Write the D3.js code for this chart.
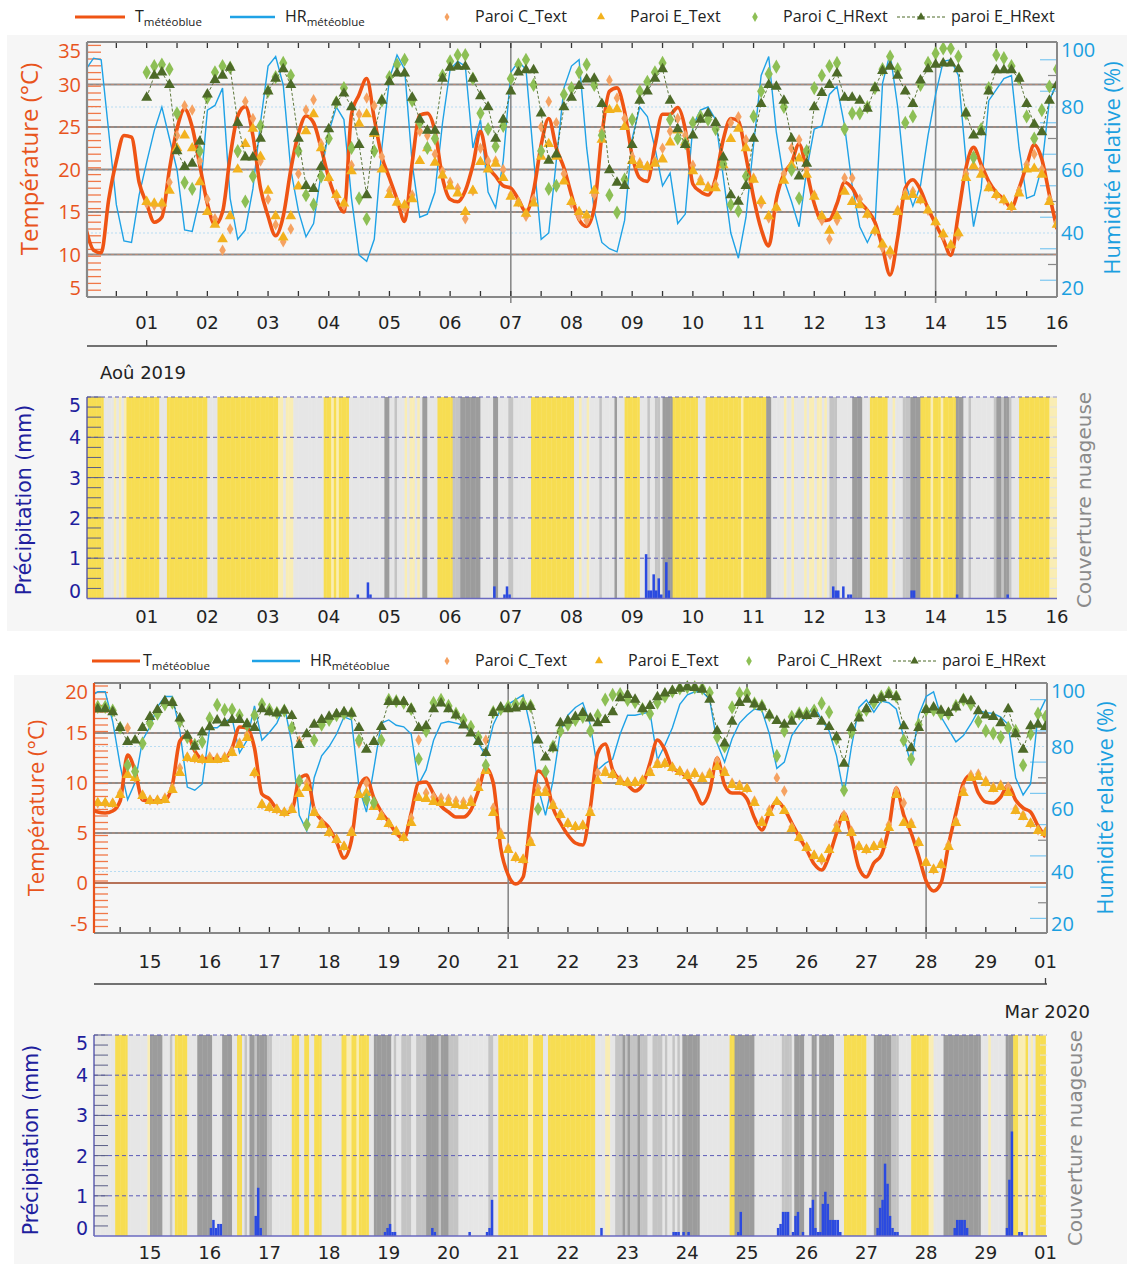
<!DOCTYPE html>
<html><head><meta charset="utf-8">
<script src="https://cdn.jsdelivr.net/npm/d3@7"></script>
<style>body{margin:0;background:#fff}</style>
</head><body>
<script>
// ---------------- DATA ----------------
// Hours are counted from the first midnight of each chart (31 Jul 2019, 14 Feb 2020); series sampled every 3 h.
const augStep = 3, augLineStart = 0, augMarkStart = 24;
const augT = [13.0,10.5,10.2,16.5,21.0,24.0,23.8,18.5, 16.0,13.8,14.4,20.0,24.8,27.1,25.0,20.5, 16.0,13.5,15.0,21.5,26.3,27.4,24.0,17.8,
 14.5,12.2,14.5,20.0,24.2,26.3,25.5,22.5, 19.0,16.5,15.0,26.5,28.8,30.7,26.0,21.5, 19.0,16.5,13.9,20.8,26.4,26.6,24.5,19.0,
 16.5,16.2,17.5,20.5,24.5,20.5,19.2,18.1, 17.8,16.5,15.0,17.5,22.9,26.0,22.5,20.2, 17.0,14.1,13.3,15.5,24.0,29.2,29.6,26.8,
 21.6,19.0,18.6,22.8,26.5,26.5,27.3,24.7, 18.3,17.4,17.0,19.0,23.5,26.0,25.7,21.5, 16.7,13.0,11.0,16.5,19.5,20.8,23.0,19.8,
 16.0,14.0,14.1,16.0,18.5,17.8,16.2,15.2, 13.8,10.8,7.6,12.0,17.8,18.8,17.6,15.4, 13.6,11.8,9.9,14.8,20.2,22.6,20.6,18.6,
 17.3,16.5,15.5,17.8,20.5,22.9,21.2,17.0, 13.0];
const augHR = [92,95.5,95,72,49,37.5,37,52, 62.5,72.5,80,70,60,41,40.5,51, 79,80.5,86,51,38,41,54,75,
 93,96,87,60,47,38.8,43,59, 72,80,76,51,33,31,38,67, 89,96.5,92,62,45,46,53,75,
 92,94.5,93,67,76,53,48,63, 91,94.4,92,64,38,40,63,86, 93,95,67,47,37,35,34,44,
 70,80,77,67,55,59,43,46, 74,79,80,76,58,40,32,45, 68,90,96,72,57,50,42,60,
 73,74,84,86.5,74,55,42,37, 42,87.5,97,80,56,48.5,55,71, 84,94.5,95,90,63,42,54,82,
 85.5,89,90,67,51,52,61,82, 88];
const augCText = [16.0,15.8,15.8,18.5,24.0,27.5,27.0,21.0, 16.5,14.2,10.5,13.0,22.0,28.0,26.0,21.0, 16.5,13.5,11.5,13.0,19.5,27.0,28.2,23.0,
 19.0,16.8,15.8,20.5,26.5,28.4,27.5,21.5, 17.5,16.2,15.4,17.0,24.5,24.0,21.8,19.8, 18.5,17.8,14.2,17.5,22.5,21.0,21.0,20.0,
 17.0,16.2,14.5,16.5,25.0,28.0,25.5,19.5, 16.0,14.5,14.0,17.0,24.5,30.5,28.4,26.0, 21.5,20.8,20.4,21.0,22.5,24.5,26.0,24.0,
 20.5,18.8,18.0,18.2,21.0,25.5,26.2,23.5, 19.0,16.0,14.3,15.5,19.5,22.5,23.5,20.0, 17.0,14.0,11.8,14.0,19.0,19.0,16.5,14.8,
 12.8,10.8,10.0,15.2,17.2,17.4,16.5,15.2, 13.8,12.2,11.0,12.2,19.5,21.6,20.0,18.0, 17.0,16.4,15.6,17.5,20.6,21.8,20.0,16.5, 13.8];
const augEText = [16.2,16.0,16.0,17.5,22.5,24.0,22.5,18.5, 15.0,13.5,11.8,14.5,20.0,23.0,24.8,21.5, 17.5,14.5,12.0,14.5,18.0,24.5,26.5,22.5,
 19.0,17.0,16.0,19.8,25.4,26.5,24.2,20.0, 17.0,16.1,15.8,16.5,21.0,22.5,20.8,19.3, 18.0,17.2,15.0,17.5,20.9,20.0,20.7,19.0,
 16.8,16.0,14.8,16.0,21.5,23.0,21.5,18.6, 16.2,15.0,14.6,17.5,23.5,27.0,27.1,25.0, 21.0,20.5,20.3,20.7,21.2,23.2,24.6,23.2,
 19.8,18.5,17.8,17.8,20.5,23.6,24.8,22.5, 18.8,16.3,14.5,15.5,18.7,20.5,21.3,19.4, 16.8,14.5,12.8,14.5,17.4,16.2,15.8,14.7,
 12.8,11.2,10.4,15.0,16.8,17.0,16.4,15.2, 13.8,12.4,11.1,12.5,19.0,20.4,19.4,17.8, 17.0,16.4,15.6,17.2,20.0,20.1,19.4,16.2, 13.5];
const augCHR = [91,93,93.5,92,78,56,54,66, 83,91,93,92.5,66,50,58,74, 85,89.5,94,90,66,52,49,58,
 70,81.5,86,67,51,44.5,66,82, 89.5,93.5,95,82,75,67,70,90, 94.5,96.5,96.5,89,78,73,67.5,74,
 89,93.5,95,87,66,54,55,84, 86,91,93.5,87,71,52,46.5,57, 76,85,88,91,94,76,70,68.5,
 75,77,76,73,62,49,47,58, 77,85,90.5,92.8,80,60,51,66, 86,90,93,94,73,78,78,80,
 86,92,96,92,75,77,87,94, 97,98.6,98.6,96,78,64,73,86, 96.5,95.5,93,89,77,70,79,86.5, 92];
const augEHR = [83,90,91,87,66,61,62,69, 84,88.6,90,92.5,75,64,64,70, 85,89,92,87,70,55,54,61,
 73,81.5,84.3,80,68,52,72,82, 88,90.7,90.7,83,76,72.5,72.5,89, 92.5,92.8,92.8,89,83.5,80,70,76,
 85,91,91.7,91.7,78,63,65,80, 83,86.7,88.8,89,81,60,56,55, 68,82,85,89,92,82,73,68,
 71,76,78,75,64,52,50,55, 70,81,87,86.5,82,70,58,62, 80,84.5,87,90.7,83,83,82,79.5,
 86,91.5,92.8,90,85,81,88.5,92, 93.5,93.9,93.9,92,78,71,72,85, 91.7,91.7,91.7,89,81,74.5,72,82, 87];

const febStep = 3, febLineStart = 0, febMarkStart = 0;
const febT = [7.4,7.1,7.0,7.2,8.2,12.8,11.2,8.3, 8.2,8.2,8.3,9.8,14.2,14.8,13.2,12.4, 12.5,12.3,12.4,13.5,15.6,15.5,13.5,8.9,
 8.4,7.4,7.0,7.2,10.4,10.8,7.4,6.3, 5.5,4.1,2.5,4.3,9.5,10.5,8.5,7.1, 6.1,5.0,4.4,7.0,10.0,10.1,8.9,7.7,
 7.1,6.6,6.6,7.3,9.2,11.5,10.0,3.5, 0.8,-0.1,0.6,6.5,11.2,10.5,7.5,6.0, 4.8,4.0,3.8,7.5,13.0,13.9,11.3,10.3,
 9.8,9.2,9.8,12.0,14.3,13.3,11.5,11.1, 10.5,9.3,7.9,9.2,12.5,9.8,9.0,9.0, 8.4,6.5,5.3,7.0,8.2,7.4,6.0,4.6,
 3.3,1.9,1.3,2.7,5.0,7.0,4.6,1.5, 0.6,2.0,2.8,5.5,9.5,6.8,5.0,2.7, 0.2,-0.8,0.0,3.8,7.0,10.0,10.8,9.0,
 8.1,8.0,8.6,9.8,8.3,7.5,7.1,5.7, 4.6];
const febHR = [96,97.5,97.5,88,74,63,68.5,82, 86.3,92.7,96,96,85,67,66,68, 86,86,88,89,78,82,93,82,
 84.5,87.5,93,81,58,53,70,77, 80,84,89.5,88.5,67,59,73,87.5, 88.5,86.8,86.3,84,68,72.5,82,87.4,
 88,87.5,86.8,85,81,77,87,92, 93.5,95,96.5,86,67,58,69,85, 90,92.5,94,87,72.5,74.6,76,84,
 90,90,90.5,91,75.7,80.5,86,93.5, 96.5,97.5,97.5,95,81,75,82.5,87.5, 90,92,91.5,84,73,75,83.5,87,
 89.8,93,88.5,85,77,64.5,80,92.5, 94.9,91,94.5,94,92,83,74,90, 96,97.5,89.5,85.5,81.5,83.5,87.2,91.5,
 90.8,90.6,89.4,87,70,64.5,68,90, 95];
const febCText = [8.0,8.0,8.0,8.0,9.0,15.5,10.5,8.8, 8.3,8.3,8.5,9.5,11.5,12.6,12.5,12.4, 12.6,12.5,12.6,13.2,14.0,14.8,11.0,7.9,
 7.6,7.4,7.1,7.5,14.2,10.0,7.2,6.0, 5.1,4.4,3.7,5.2,14.0,10.0,8.0,6.8, 6.0,5.2,4.6,6.5,14.3,9.0,8.6,8.5,
 8.4,8.2,8.1,8.3,10.0,14.3,7.5,5.0, 3.5,2.6,2.4,4.2,9.5,9.3,7.9,6.9, 6.0,5.6,5.8,7.2,11.0,11.2,10.9,10.3,
 10.1,10.1,10.3,11.2,12.0,12.0,11.6,11.2, 10.9,11.0,10.6,11.0,12.2,11.2,10.0,9.8, 9.5,8.2,6.2,7.3,10.5,9.2,5.6,4.6,
 3.6,2.8,2.3,3.4,5.8,6.8,5.2,3.7, 3.4,3.7,4.0,5.8,9.2,8.0,6.0,4.1, 2.1,1.4,1.9,3.8,6.2,9.3,10.8,10.9,
 10.2,9.6,9.8,9.6,7.4,6.8,6.0,5.3, 5.1];
const febEText = [8.0,8.0,8.0,7.9,8.8,10.8,10.5,8.7, 8.2,8.2,8.3,9.3,11.0,12.5,12.4,12.3, 12.3,12.3,12.4,13.0,13.8,14.5,11.0,7.8,
 7.5,7.3,7.0,7.3,8.9,9.5,7.0,5.8, 5.0,4.3,3.6,5.0,8.8,9.0,7.6,6.6, 5.9,5.1,4.5,6.0,8.5,8.4,8.1,8.0,
 8.0,7.8,7.7,8.0,9.5,11.2,7.0,4.7, 3.3,2.5,2.3,4.0,9.0,9.0,7.7,6.8, 5.9,5.6,5.7,7.0,10.2,11.0,10.8,10.1,
 10.0,10.0,10.2,11.0,11.8,11.9,11.5,11.1, 10.7,10.9,10.4,10.8,11.6,11.0,9.8,9.6, 9.4,8.0,6.0,7.0,8.1,7.2,5.4,4.5,
 3.5,2.7,2.4,3.3,5.4,6.5,5.0,3.6, 3.3,3.6,3.8,5.5,8.8,6.0,5.8,4.0, 2.0,1.3,1.8,3.6,6.0,9.0,10.5,10.6,
 10.0,9.4,9.6,9.0,7.2,6.6,5.9,5.2, 5.0];
const febCHR = [92.7,92.7,92.7,91.5,86,74,72,81, 87.4,90.5,93.5,94,88,83,80.5,81.5, 89,93.3,91.7,91.8,90,87,90,93.5,
 91.8,90.8,91.5,86,69,55,82,87, 88.5,90,90.6,90.6,82,63,62,82, 94.9,94.5,94,92,76,85,94,94.9,
 93,90.5,88.5,86.3,83,74,91,92, 92.8,93.5,93.8,93,60,72,80,85, 87,88.5,89.5,85,90,95,96.5,96.8,
 94.9,94.2,92,90.5,94,96,97.6,98.6, 99,98.9,98.6,97.2,83,80,92.5,97, 97,93.8,93,90,77,85,89.5,90.6,
 90.6,91.5,93.8,91,82.5,66,84.5,90, 91.7,94,96,97.2,96,82,76,87, 91.7,91.7,90.5,90.5,93,95,93.5,88,
 85,84.2,83,86,85,74,84,90.5, 89.5];
const febEHR = [92,92,92,91,86,81.5,82,86, 89.5,91.7,94.5,94,89,83.5,80,84.5, 86.2,88.4,87.5,88.5,88.5,87.2,86,92,
 91,90.6,91.5,89.8,80.5,84,87,88.5, 89.6,90.4,91,90.5,86,79,81.5,86.3, 94.3,94.3,94.3,92,86,86.5,92,93.8,
 92,90,86.8,84.2,81.5,78,90.8,92.5, 92,92.2,92.7,92.7,82,76.5,79.5,87.5, 88.3,89.5,90.8,89,87.5,88.5,91,95.5,
 96.5,95,92,93,95.8,97,97.8,98.5, 99,98.8,98.2,95,85,81,88,94, 95,93.5,92.7,90,88.2,87,88,90.2,
 89.8,90.4,88,86.3,83,74.5,86,89, 92,94.9,95.5,96.5,95.8,86.5,79.5,86, 91.7,92.5,91.5,90.8,92.5,95,94.5,91.3,
 90,89.5,87.5,92,84,79,86.5,87, 86.3];

// Hourly precipitation [hour, mm]
const augPrecip = [[107,0.1],[111,0.4],[112,0.1],[161,0.3],[165,0.1],[166,0.3],[167,0.1],[221,1.1],[222,0.2],[223,0.2],[224,0.6],[225,0.2],[226,0.5],[227,0.1],[229,0.9],[230,0.2],[295,0.3],[296,0.2],[297,0.2],[299,0.3],[301,0.1],[302,0.1],[326,0.2],[327,0.2],[344,0.1],[364,0.1]];
const febPrecip = [[48,0.2],[49,0.4],[50,0.2],[51,0.3],[52,0.3],[66,0.5],[67,1.2],[68,0.2],[118,0.1],[119,0.2],[120,0.3],[121,0.1],[122,0.1],[137,0.2],[138,0.1],[152,0.1],[159,0.1],[160,0.2],[161,0.9],[205,0.2],[234,0.1],[235,0.1],[236,0.1],[238,0.1],[240,0.1],[260,0.1],[261,0.6],[276,0.2],[277,0.3],[278,0.6],[279,0.6],[280,0.6],[282,0.1],[283,0.5],[284,0.6],[286,0.1],[289,0.7],[290,0.9],[291,0.2],[292,0.1],[293,0.1],[294,0.8],[295,1.1],[296,0.8],[297,0.4],[298,0.4],[299,0.4],[300,0.4],[301,0.1],[316,0.2],[317,0.7],[318,0.9],[319,1.8],[320,1.3],[321,0.5],[322,0.2],[323,0.1],[324,0.1],[347,0.2],[348,0.4],[349,0.4],[350,0.4],[351,0.4],[352,0.2],[368,0.2],[369,1.4],[370,2.6],[373,0.1],[374,0.1]];

// Hourly cloud cover class (0 clear/sun … 4 overcast), one string per day
const augCloud = ["000000022221212100000000","000002220000000000000000","222200000000000000000000","000011211122222222222200",
 "010100002222222222222244","223222121121244222200000","033344444444222224422223","322222220000000000000000",
 "022122122223222224222000","000222322332444400000000","002220000000000000010000","000004422222122122221211",
 "211212333222222444422200","000002212223334444000010","001000004442232222222223","443443222000000000000111"];
const febCloud = ["222222222200000222222221","444442223200000222244444","422224444220023244344443","322222222000220022000222",
 "222220011001000022444444","423223333223333444443444","333322222222222233220000","000000001100002200000000",
 "000000000002222112233343","433343332233332322323244","444442222222222220044444","444222222222223333244442",
 "224424444442222000000000","222444444433322222000000","011222244444444444444422","212222224440011102120000"];
const cloudColors = ["#f7dd52","#f9edb4","#e6e6e6","#c4c4c4","#9c9c9c"];

const augDays = d3.range(1,17).map(d => ({h: d*24, label: String(d).padStart(2,"0")}));
const febDays = d3.range(15,30).map((d,i) => ({h: (i+1)*24, label: String(d)})).concat([{h:384, label:"01"}]);

const tempTicksAug = [5,10,15,20,25,30,35];
const tempTicksFeb = [-5,0,5,10,15,20];
const hrTicks = [20,40,60,80,100];
const precipTicks = [0,1,2,3,4,5];

// ---------------- DRAWING ----------------
const W = 1127, H = 1264;
const svg = d3.select("body").append("svg").attr("width", W).attr("height", H);
const C = {T:"#ef5414", HR:"#1fa2e6", cT:"#f5a262", eT:"#f2b21e", cH:"#8dbf55", eH:"#4d6a28",
  red:"#e8541c", blue:"#1b9fe0", navy:"#1f1f9e", grid:"#8c8c8c"};
const FX = "'Open Sans', 'Liberation Sans', sans-serif";
const FM = "'DejaVu Sans', sans-serif";

svg.append("rect").attr("x",7).attr("y",35).attr("width",1120).attr("height",596).attr("fill","#f6f6f6");
svg.append("rect").attr("x",14).attr("y",675).attr("width",1113).attr("height",589).attr("fill","#f6f6f6");

let clipN = 0;
function clip(x0,y0,x1,y1){
  const id = "c"+(clipN++);
  svg.append("clipPath").attr("id",id).append("rect").attr("x",x0).attr("y",y0).attr("width",x1-x0).attr("height",y1-y0);
  return "url(#"+id+")";
}
const pts = (arr, start, step) => arr.map((v,i)=>[start+i*step, v]);

function legend(y, o){
  const g = svg.append("g");
  g.append("line").attr("x1",o.t0).attr("x2",o.t1).attr("y1",y).attr("y2",y).attr("stroke",C.T).attr("stroke-width",3);
  const t1 = g.append("text").attr("x",o.t1+(o.tGap||10)).attr("y",y+5).attr("font-family",FX).attr("font-size",16).attr("fill","#222");
  t1.append("tspan").text("T"); t1.append("tspan").attr("font-size",11.5).attr("dy",4).text("météoblue");
  g.append("line").attr("x1",o.h0).attr("x2",o.h1).attr("y1",y).attr("y2",y).attr("stroke",C.HR).attr("stroke-width",2.5);
  const t2 = g.append("text").attr("x",o.h1+10).attr("y",y+5).attr("font-family",FX).attr("font-size",16).attr("fill","#222");
  t2.append("tspan").text("HR"); t2.append("tspan").attr("font-size",11.5).attr("dy",4).text("météoblue");
  const sym = (x, type, size, fill) => g.append("path").attr("transform",`translate(${x},${y})`)
      .attr("d", d3.symbol().type(type).size(size)()).attr("fill",fill);
  sym(o.m1, d3.symbolDiamond, 22, C.cT);
  g.append("text").attr("x",o.m1+28).attr("y",y+5).attr("font-family",FX).attr("font-size",16).attr("fill","#222").text("Paroi C_Text");
  sym(o.m2, d3.symbolTriangle, 28, C.eT);
  g.append("text").attr("x",o.m2+29).attr("y",y+5).attr("font-family",FX).attr("font-size",16).attr("fill","#222").text("Paroi E_Text");
  sym(o.m3, d3.symbolDiamond, 28, C.cH);
  g.append("text").attr("x",o.m3+28).attr("y",y+5).attr("font-family",FX).attr("font-size",16).attr("fill","#222").text("Paroi C_HRext");
  g.append("line").attr("x1",o.d0).attr("x2",o.d1).attr("y1",y).attr("y2",y).attr("stroke",C.eH).attr("stroke-width",1).attr("stroke-dasharray","3,2");
  sym((o.d0+o.d1)/2, d3.symbolTriangle, 30, C.eH);
  g.append("text").attr("x",o.d1+6).attr("y",y+5).attr("font-family",FX).attr("font-size",16).attr("fill","#222").text("paroi E_HRext");
}

function tempPanel(p){
  const x = d3.scaleLinear().domain([0,384]).range(p.xr);
  const yT = d3.scaleLinear().domain(p.tDom).range([p.b, p.t]);
  const yH = d3.scaleLinear().domain([20,100]).range([p.hb, p.ht]);
  const L = p.l, R = p.r, T = p.t, B = p.b;
  const g = svg.append("g");
  [40,60,80].forEach(v => g.append("line").attr("x1",L).attr("x2",R).attr("y1",yH(v)).attr("y2",yH(v))
      .attr("stroke","#b8dcf2").attr("stroke-width",1).attr("stroke-dasharray","2,2"));
  p.grid.forEach(v => {
    g.append("line").attr("x1",L).attr("x2",R).attr("y1",yT(v)).attr("y2",yT(v)).attr("stroke", v===0 ? "#b67258" : C.grid).attr("stroke-width",1.8);
    if (v!==0) g.append("line").attr("x1",L).attr("x2",R).attr("y1",yT(v)).attr("y2",yT(v)).attr("stroke","#c98a70").attr("stroke-width",0.7).attr("stroke-dasharray","3,3");
  });
  [168,336].forEach(h => g.append("line").attr("x1",x(h)).attr("x2",x(h)).attr("y1",T).attr("y2",B+6).attr("stroke","#8a8a8a").attr("stroke-width",1.6));
  d3.range(p.tDom[0], p.tDom[1]+0.01, p.minor).forEach(v => g.append("line").attr("x1",L+1).attr("x2",L+14)
      .attr("y1",yT(v)).attr("y2",yT(v)).attr("stroke","#f07848").attr("stroke-width",1.3));
  d3.range(25,100,5).filter(v => v%20!==0).forEach(v => g.append("line").attr("x1",R-(v%10===0?9:17)).attr("x2",R)
      .attr("y1",yH(v)).attr("y2",yH(v)).attr("stroke", v%10===0 ? "#888" : "#7cc7f0").attr("stroke-width",1.2));
  d3.range(12,384,12).forEach(h => {
    g.append("line").attr("x1",x(h)).attr("x2",x(h)).attr("y1",T).attr("y2",T+6).attr("stroke","#333").attr("stroke-width",1.3);
    g.append("line").attr("x1",x(h)).attr("x2",x(h)).attr("y1",B).attr("y2",B-6).attr("stroke","#333").attr("stroke-width",1.3);
  });
  const cp = clip(L, T-4, R, B);
  const d = g.append("g").attr("clip-path", cp);
  d.append("path").attr("d", d3.line().x(q=>x(q[0])).y(q=>yH(q[1]))(pts(p.hr, p.lineStart, 3)))
    .attr("fill","none").attr("stroke",C.HR).attr("stroke-width",1.4);
  d.append("path").attr("d", d3.line().curve(d3.curveMonotoneX).x(q=>x(q[0])).y(q=>yT(q[1]))(pts(p.temp, p.lineStart, 3)))
    .attr("fill","none").attr("stroke",C.T).attr("stroke-width",3.6);
  const mk = (arr, scale, type, size, fill) => d.append("g").selectAll("path").data(pts(arr, p.markStart, 3)).join("path")
      .attr("transform", q => `translate(${x(q[0])},${scale(q[1])})`).attr("d", d3.symbol().type(type).size(size)()).attr("fill", fill);
  mk(p.cT, yT, d3.symbolDiamond, 38, C.cT);
  mk(p.eT, yT, d3.symbolTriangle, 50, C.eT);
  mk(p.cH, yH, d3.symbolDiamond, 58, C.cH);
  d.append("path").attr("d", d3.line().x(q=>x(q[0])).y(q=>yH(q[1]))(pts(p.eH, p.markStart, 3)))
    .attr("fill","none").attr("stroke",C.eH).attr("stroke-width",0.9).attr("stroke-dasharray","3,2");
  mk(p.eH, yH, d3.symbolTriangle, 52, C.eH);
  g.append("line").attr("x1",L).attr("x2",R).attr("y1",T).attr("y2",T).attr("stroke","#888").attr("stroke-width",2);
  g.append("line").attr("x1",L).attr("x2",R).attr("y1",B).attr("y2",B).attr("stroke","#888").attr("stroke-width",2);
  g.append("line").attr("x1",R).attr("x2",R).attr("y1",T).attr("y2",B).attr("stroke","#888").attr("stroke-width",2);
  g.append("line").attr("x1",L).attr("x2",L).attr("y1",T).attr("y2",B).attr("stroke",p.leftSpine).attr("stroke-width",2.2);
  p.tTicks.forEach(v => g.append("text").attr("x",p.tLabX).attr("y",Math.min(Math.max(yT(v),T+9),B-9)+7)
      .attr("text-anchor","end").attr("font-family",FX).attr("font-size",20).attr("fill",C.red).text(v));
  hrTicks.forEach(v => g.append("text").attr("x",R+4).attr("y",Math.min(Math.max(yH(v),T+8),B-9)+7)
      .attr("font-family",FX).attr("font-size",20).attr("fill",C.blue).text(v));
  g.append("text").attr("transform",`translate(${p.tTitle[0]},${p.tTitle[1]}) rotate(-90)`).attr("text-anchor","middle")
    .attr("font-family",FX).attr("font-size",p.tFs).attr("fill",C.red).text("Température (°C)");
  g.append("text").attr("transform",`translate(${p.hTitle[0]},${p.hTitle[1]}) rotate(-90)`).attr("text-anchor","middle")
    .attr("font-family",FX).attr("font-size",p.hFs).attr("fill",C.blue).text("Humidité relative (%)");
  p.days.forEach(dd => g.append("text").attr("x",x(dd.h)).attr("y",p.dayY).attr("text-anchor","middle")
      .attr("font-family",FM).attr("font-size",18).attr("fill","#222").text(dd.label));
  g.append("line").attr("x1",L).attr("x2",R).attr("y1",p.ruleY).attr("y2",p.ruleY).attr("stroke","#444").attr("stroke-width",1.3);
  g.append("line").attr("x1",x(p.ruleTick)).attr("x2",x(p.ruleTick)).attr("y1",p.ruleY).attr("y2",p.ruleY-6).attr("stroke","#444").attr("stroke-width",1.3);
}

function precipPanel(p){
  const x = d3.scaleLinear().domain([0,384]).range(p.xr);
  const y = d3.scaleLinear().domain([0,5]).range([p.b, p.t]);
  const L = p.l, R = p.r;
  const g = svg.append("g");
  const cp = clip(L, p.t, R, p.b);
  const bands = g.append("g").attr("clip-path", cp);
  const hours = p.cloud.join("").split("").map((c,i)=>({h:i, c:+c}));
  bands.selectAll("rect").data(hours).join("rect")
    .attr("x", q=>x(q.h)).attr("width", q=>x(q.h+1)-x(q.h)+0.4).attr("y", y(5)).attr("height", y(0)-y(5))
    .attr("fill", q=>cloudColors[q.c]);
  [1,2,3,4,5].forEach(v => g.append("line").attr("x1",L).attr("x2",R).attr("y1",y(v)).attr("y2",y(v))
      .attr("stroke","#5b5bb8").attr("stroke-width",1).attr("stroke-dasharray","4,3"));
  g.append("g").attr("clip-path", cp).selectAll("rect").data(p.precip).join("rect")
    .attr("x", q=>x(q[0])).attr("width", q=>x(q[0]+1)-x(q[0])).attr("y", q=>y(q[1])).attr("height", q=>y(0)-y(q[1]))
    .attr("fill","#2b4ae0");
  d3.range(0.25,5.01,0.25).forEach(v => g.append("line").attr("x1",L).attr("x2",L+14).attr("y1",y(v)).attr("y2",y(v))
      .attr("stroke","#5a5e86").attr("stroke-width",1));
  d3.range(0.25,5.01,0.25).forEach(v => g.append("line").attr("x1",R-7).attr("x2",R).attr("y1",y(v)).attr("y2",y(v))
      .attr("stroke","#e2e2e2").attr("stroke-width",1));
  g.append("line").attr("x1",L).attr("x2",L).attr("y1",p.t).attr("y2",p.b).attr("stroke","#4b4ba8").attr("stroke-width",1.3);
  g.append("line").attr("x1",L).attr("x2",R).attr("y1",p.b).attr("y2",p.b).attr("stroke","#6a6ac0").attr("stroke-width",1.3);
  precipTicks.forEach(v => g.append("text").attr("x",p.labX).attr("y",Math.min(Math.max(y(v),p.t+8),p.b-8)+7)
      .attr("text-anchor","end").attr("font-family",FM).attr("font-size",19).attr("fill",C.navy).text(v));
  g.append("text").attr("transform",`translate(${p.pTitle[0]},${p.pTitle[1]}) rotate(-90)`).attr("text-anchor","middle")
    .attr("font-family",FM).attr("font-size",20.5).attr("fill",C.navy).text("Précipitation (mm)");
  g.append("text").attr("transform",`translate(${p.cTitle[0]},${p.cTitle[1]}) rotate(-90)`).attr("text-anchor","middle")
    .attr("font-family",FM).attr("font-size",20).attr("fill","#8a8a8a").text("Couverture nuageuse");
  p.days.forEach(dd => g.append("text").attr("x",x(dd.h)).attr("y",p.dayY).attr("text-anchor","middle")
      .attr("font-family",FM).attr("font-size",18).attr("fill","#222").text(dd.label));
}

legend(17, {t0:75,t1:125,tGap:10,h0:230,h1:275,m1:447,m2:601,m3:755,d0:897,d1:945});
legend(661,{t0:92,t1:140,tGap:3,h0:252,h1:300,m1:447,m2:599,m3:749,d0:893,d1:936});

tempPanel({xr:[86,1057], l:87, r:1057, t:42, b:297, ht:44, hb:296, tDom:[5,35], grid:[10,15,20,25,30], minor:0.8,
  temp:augT, hr:augHR, cT:augCText, eT:augEText, cH:augCHR, eH:augEHR, lineStart:augLineStart, markStart:augMarkStart,
  leftSpine:"#888", tTicks:tempTicksAug, tLabX:81, tTitle:[38,159], hTitle:[1120,168], tFs:24, hFs:22,
  days:augDays, dayY:329, ruleY:346, ruleTick:24});
precipPanel({xr:[86,1057], l:87, r:1057, t:397, b:598.5, precip:augPrecip, cloud:augCloud, labX:81,
  pTitle:[31,500], cTitle:[1091,500], days:augDays, dayY:623});
svg.append("text").attr("x",100).attr("y",379).attr("font-family",FM).attr("font-size",18).attr("fill","#222").text("Aoû 2019");

tempPanel({xr:[90.3,1045.5], l:94, r:1047, t:683, b:933, ht:684, hb:934, tDom:[-5,20], grid:[0,5,10,15], minor:0.65,
  temp:febT, hr:febHR, cT:febCText, eT:febEText, cH:febCHR, eH:febEHR, lineStart:febLineStart, markStart:febMarkStart,
  leftSpine:C.red, tTicks:tempTicksFeb, tLabX:88, tTitle:[44,808], hTitle:[1113,808], tFs:22, hFs:22,
  days:febDays, dayY:968, ruleY:984, ruleTick:384});
precipPanel({xr:[90.3,1045.5], l:94, r:1047, t:1035, b:1236, precip:febPrecip, cloud:febCloud, labX:88,
  pTitle:[38,1140], cTitle:[1082,1138], days:febDays, dayY:1259});
svg.append("text").attr("x",1090).attr("y",1018).attr("text-anchor","end").attr("font-family",FM).attr("font-size",18).attr("fill","#222").text("Mar 2020");
</script>
</body></html>
